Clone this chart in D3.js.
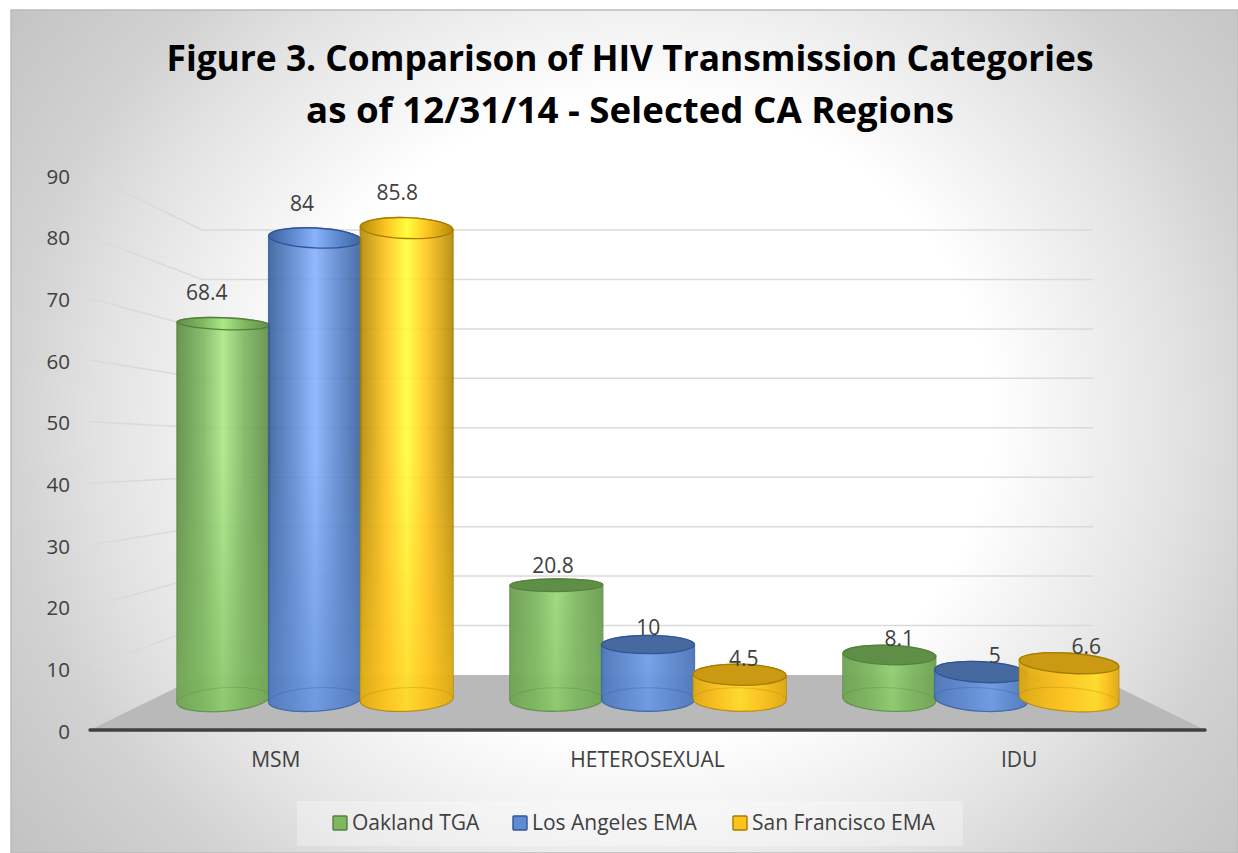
<!doctype html>
<html>
<head>
  <title>Figure 3</title>
  <script src="https://d3js.org/d3.v7.min.js"></script>
  <style>
    body { margin: 0; background: white; }
    text { font-family: "Open Sans", sans-serif; fill: #404040; }
    .domain { display: none; }
  </style>
</head>
<body>
  <svg id="chart" width="1238" height="853"></svg>

  <script>

  const titleLines = ["Figure 3. Comparison of HIV Transmission Categories", "as of 12/31/14 - Selected CA Regions"];
  const categories = ["MSM", "HETEROSEXUAL", "IDU"];
  const seriesNames = ["Oakland TGA", "Los Angeles EMA", "San Francisco EMA"];
  const oakland = [68.4, 20.8, 8.1];
  const losAngeles = [84, 10, 5];
  const sanFrancisco = [85.8, 4.5, 6.6];
  const yTicks = [0, 10, 20, 30, 40, 50, 60, 70, 80, 90];

  const seriesValues = [oakland, losAngeles, sanFrancisco];
  const colors = [
    {edge: "#5c8a42", mid: "#7db75f", light: "#abe886", cap: "#5f8f46", line: "#55803c"},
    {edge: "#365e9c", mid: "#5f8bd2", light: "#86b2fd", cap: "#466a9f", line: "#2f5597"},
    {edge: "#b08600", mid: "#ffc41c", light: "#ffff3a", cap: "#c99a12", line: "#a67c00"}
  ];

  const svg = d3.select("#chart");
  const defs = svg.append("defs");

  // page background, wide white glow
  let bg = defs.append("radialGradient").attr("id", "bg")
    .attr("gradientUnits", "userSpaceOnUse")
    .attr("cx", 0).attr("cy", 0).attr("r", 1)
    .attr("gradientTransform", "translate(640,420) scale(875,800)");
  [[0.4, "#ffffff"], [0.62, "#e2e2e2"], [0.72, "#d2d2d2"], [0.9, "#c2c2c2"]].forEach(s => {
    bg.append("stop").attr("offset", s[0]).attr("stop-color", s[1]);
  });

  svg.append("rect")
    .attr("x", 11).attr("y", 10).attr("width", 1227).attr("height", 843)
    .attr("fill", "url(#bg)").attr("stroke", "#bbbbbb").attr("stroke-width", 1.5);

  const titleWidths = [927, 648];
  svg.append("g").selectAll("text")
    .data(titleLines)
    .enter().append("text")
    .attr("x", 630)
    .attr("y", (d, i) => 71 + i * 52)
    .attr("text-anchor", "middle")
    .attr("textLength", (d, i) => titleWidths[i])
    .attr("lengthAdjust", "spacingAndGlyphs")
    .style("font-size", "36px")
    .style("font-weight", 700)
    .style("fill", "#000")
    .text(d => d);

  // three y scales: front edge of floor, back wall, and the plane the cylinders stand on
  const yFront = d3.scaleLinear().domain([0, 90]).range([730, 175]);
  const yBack = d3.scaleLinear().domain([0, 90]).range([675, 230]);
  const yBar = d3.scaleLinear().domain([0, 90]).range([699.5, 205]);

  const wallLeft = 202, wallRight = 1093, floorLeft = 90, floorRight = 1205;

  // bars sit on the back part of the floor, the axis labels spread over its front edge
  const x0 = d3.scaleBand().domain(categories).range([148.5, 1147.5]);
  const x1 = d3.scaleBand().domain(d3.range(3)).range([29, 304]);
  const xAxis = d3.scaleBand().domain(categories).range([floorLeft, floorRight]);

  // gridlines
  let grid = svg.append("g")
    .attr("fill", "none").attr("stroke", "#dadada").attr("stroke-width", 1.5);
  yTicks.filter(d => d > 0).forEach(v => {
    grid.append("path")
      .attr("d", d3.line()([[floorLeft, yFront(v)], [wallLeft, yBack(v)], [wallRight, yBack(v)]]));
  });

  // floor
  svg.append("path")
    .attr("d", d3.line()([[floorLeft, yFront(0)], [wallLeft, yBack(0)], [wallRight, yBack(0)], [floorRight, yFront(0)]]))
    .attr("fill", "#b9b9b9");

  svg.append("line")
    .attr("x1", floorLeft).attr("x2", floorRight)
    .attr("y1", yFront(0)).attr("y2", yFront(0))
    .attr("stroke", "#404040").attr("stroke-width", 3.5).attr("stroke-linecap", "round");

  // axes
  svg.append("g")
    .attr("transform", "translate(70,1.5)")
    .call(d3.axisLeft(yFront).tickValues(yTicks).tickSize(0).tickPadding(0))
    .call(g => g.selectAll("text").style("font-size", "20.5px"));

  svg.append("g")
    .attr("transform", "translate(0,752.5)")
    .call(d3.axisBottom(xAxis).tickSize(0).tickPadding(0))
    .call(g => g.selectAll("text").style("font-size", "21px").attr("dy", "0.71em"));

  // ellipse flattening and tilt come from the camera position
  const eyeX = 640, eyeY = 450;
  const ryOf = y => 0.047 * Math.abs(y - eyeY);
  const tiltOf = (x, y) => 4e-5 * (x - eyeX) * (y - eyeY);
  const centerOf = c => c > 1000 ? c - (c - 1000) * 0.05 : c;
  const widthOf = c => 93 * (c > 1000 ? 1 + (c - 1000) / 1000 : 1);
  // the highlight slides right on bars far right of the camera
  const lightAt = x => 0.5 + (x > eyeX ? Math.pow((x - eyeX) / 428, 4) * 0.27 : 0);

  function ellipsePoint(cx, cy, rx, ry, deg, t) {
    let a = deg * Math.PI / 180;
    let ex = rx * Math.cos(t), ey = ry * Math.sin(t);
    return [cx + ex * Math.cos(a) - ey * Math.sin(a), cy + ex * Math.sin(a) + ey * Math.cos(a)];
  }

  // side of the cylinder: left edge, front of the base rim, right edge, back of the top rim
  function bodyPath(d) {
    let topR = ellipsePoint(d.cx, d.yTop, d.rx, d.ryTop, d.tiltTop, 0);
    let topL = ellipsePoint(d.cx, d.yTop, d.rx, d.ryTop, d.tiltTop, Math.PI);
    let baseL = ellipsePoint(d.cx, d.yBase, d.rx, d.ryBase, d.tiltBase, Math.PI);
    let baseR = ellipsePoint(d.cx, d.yBase, d.rx, d.ryBase, d.tiltBase, 0);
    return `M${topL}L${baseL}A${d.rx},${d.ryBase} ${d.tiltBase} 0 0 ${baseR}L${topR}` +
      `A${d.rx},${d.ryTop} ${d.tiltTop} 0 0 ${topL}Z`;
  }

  let bars = [];
  seriesValues.forEach((vals, s) => {
    vals.forEach((v, k) => {
      let c = x0(categories[k]) + x1(s) + x1.bandwidth() / 2;
      let yTop = yBar(v), yBase = yBar(0);
      let cx = centerOf(c);
      bars.push({
        id: "side" + s + "_" + k,
        s: s, v: v, cx: cx, rx: widthOf(c) / 2,
        yTop: yTop, yBase: yBase,
        ryTop: ryOf(yTop), ryBase: ryOf(yBase),
        tiltTop: tiltOf(cx, yTop), tiltBase: tiltOf(cx, yBase)
      });
    });
  });

  bars.forEach(d => {
    let c = colors[d.s], m = lightAt(d.cx);
    let g = defs.append("linearGradient").attr("id", d.id);
    [[0, c.edge], [m * 0.56, c.mid], [m, c.light], [m + (1 - m) * 0.44, c.mid], [1, c.edge]].forEach(s => {
      g.append("stop").attr("offset", s[0]).attr("stop-color", s[1]);
    });
  });

  // low in the picture the highlight fades towards the plain series colour
  colors.forEach((c, i) => {
    let shade = defs.append("linearGradient").attr("id", "shade" + i)
      .attr("gradientUnits", "userSpaceOnUse")
      .attr("x1", 0).attr("x2", 0).attr("y1", 450).attr("y2", 710);
    shade.append("stop").attr("offset", 0).attr("stop-color", c.mid).attr("stop-opacity", 0);
    shade.append("stop").attr("offset", 1).attr("stop-color", c.mid).attr("stop-opacity", 0.6);
  });

  let cyl = svg.append("g").selectAll("g")
    .data(bars)
    .enter().append("g");

  cyl.append("path")
    .attr("d", bodyPath)
    .attr("fill", d => `url(#${d.id})`)
    .attr("fill-opacity", 0.9)
    .attr("stroke", d => colors[d.s].line)
    .attr("stroke-opacity", 0.75)
    .attr("stroke-width", 1.3);

  cyl.append("path")
    .attr("d", bodyPath)
    .attr("fill", d => `url(#shade${d.s})`);

  // far rim of the base, seen through the glass
  cyl.append("ellipse")
    .attr("transform", d => `translate(${d.cx},${d.yBase}) rotate(${d.tiltBase})`)
    .attr("rx", d => d.rx).attr("ry", d => d.ryBase)
    .attr("fill", "none")
    .attr("stroke", d => colors[d.s].line)
    .attr("stroke-opacity", 0.3);

  // top rim: seen from below on tall bars (clear), from above on short ones (solid dark)
  cyl.append("ellipse")
    .attr("transform", d => `translate(${d.cx},${d.yTop}) rotate(${d.tiltTop})`)
    .attr("rx", d => d.rx).attr("ry", d => d.ryTop)
    .attr("fill", d => d.yTop < eyeY ? `url(#${d.id})` : colors[d.s].cap)
    .attr("fill-opacity", d => d.yTop < eyeY ? 0.75 : 1)
    .attr("stroke", d => colors[d.s].line)
    .attr("stroke-width", 1.3);

  // value labels
  svg.append("g").selectAll("text")
    .data(bars)
    .enter().append("text")
    .attr("x", d => d.cx + 0.04 * (d.cx - eyeX))
    .attr("y", d => d.yTop - (45 - 0.043 * d.yTop))
    .attr("dy", "0.35em")
    .attr("text-anchor", "middle")
    .style("font-size", "21px")
    .text(d => d.v);

  // legend
  svg.append("rect")
    .attr("x", 297).attr("y", 801).attr("width", 666).attr("height", 45)
    .attr("fill", "#ffffff").attr("fill-opacity", 0.3);

  const legendX = d3.scaleOrdinal().domain(seriesNames).range([333, 513, 733]);
  let legend = svg.append("g").selectAll("g")
    .data(seriesNames)
    .enter().append("g")
    .attr("transform", d => `translate(${legendX(d)},816)`);
  legend.append("rect")
    .attr("width", 14).attr("height", 14).attr("rx", 1)
    .attr("fill", (d, i) => colors[i].mid)
    .attr("stroke", (d, i) => colors[i].line)
    .attr("stroke-width", 1.4);
  legend.append("text")
    .attr("x", 19).attr("y", 7).attr("dy", "0.35em")
    .style("font-size", "21px")
    .text(d => d);

  </script>
</body>
</html>
